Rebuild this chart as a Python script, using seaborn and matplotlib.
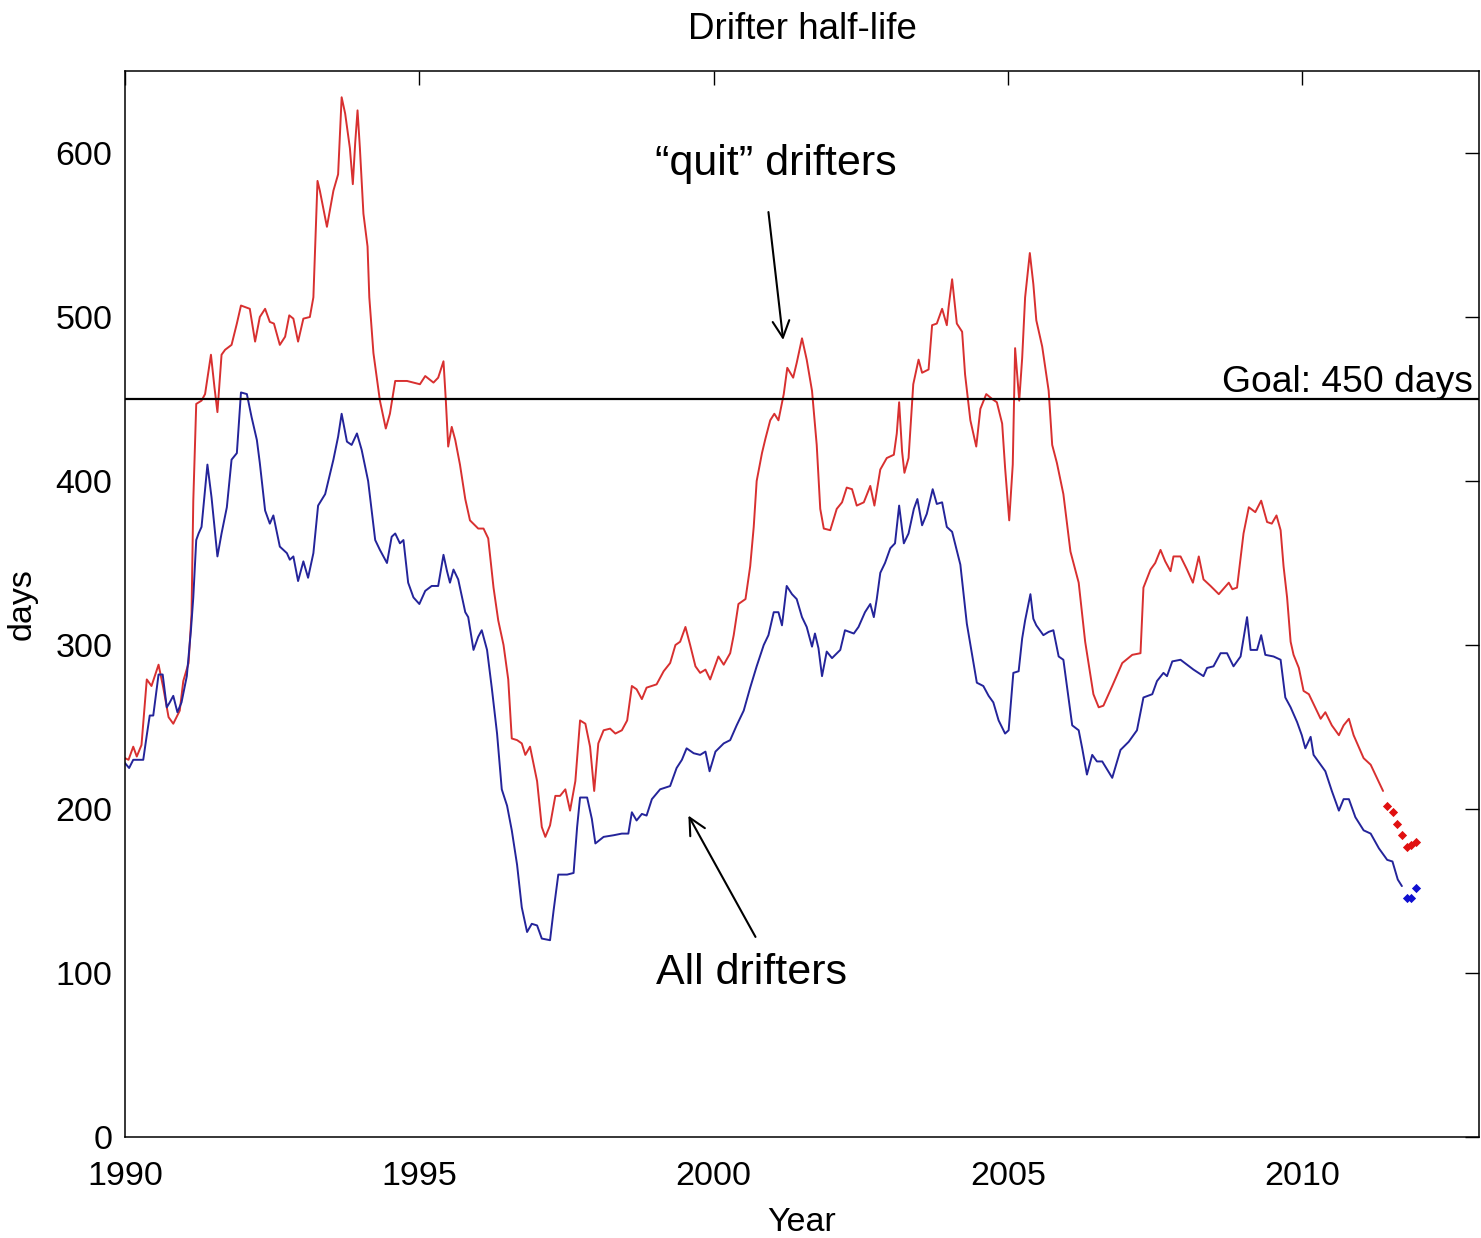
import numpy as np
import pandas as pd
import matplotlib
matplotlib.use("Agg")
import matplotlib.pyplot as plt
import seaborn as sns

# ---------------- data ----------------
quit_year = [1990.00, 1990.06, 1990.14, 1990.20, 1990.28, 1990.37, 1990.45, 1990.57, 1990.65, 1990.74,
             1990.82, 1990.93, 1990.99, 1991.08, 1991.13, 1991.16, 1991.21, 1991.30, 1991.36, 1991.46,
             1991.52, 1991.57, 1991.64, 1991.70, 1991.81, 1991.90, 1991.97, 1992.12, 1992.21, 1992.29,
             1992.38, 1992.46, 1992.53, 1992.63, 1992.72, 1992.79, 1992.86, 1992.94, 1993.03, 1993.14,
             1993.20, 1993.23, 1993.27, 1993.31, 1993.43, 1993.54, 1993.62, 1993.68, 1993.74, 1993.82,
             1993.87, 1993.91, 1993.95, 1993.99, 1994.05, 1994.12, 1994.15, 1994.22, 1994.33, 1994.43,
             1994.50, 1994.59, 1994.79, 1994.90, 1995.01, 1995.10, 1995.24, 1995.32, 1995.41, 1995.45,
             1995.49, 1995.55, 1995.61, 1995.69, 1995.78, 1995.86, 1996.00, 1996.09, 1996.17, 1996.26,
             1996.34, 1996.43, 1996.51, 1996.57, 1996.66, 1996.74, 1996.80, 1996.88, 1997.00, 1997.08,
             1997.14, 1997.22, 1997.31, 1997.39, 1997.48, 1997.56, 1997.65, 1997.73, 1997.82, 1997.90,
             1997.97, 1998.04, 1998.13, 1998.24, 1998.33, 1998.44, 1998.53, 1998.61, 1998.69, 1998.78,
             1998.86, 1999.03, 1999.15, 1999.26, 1999.35, 1999.43, 1999.52, 1999.60, 1999.69, 1999.77,
             1999.86, 1999.94, 2000.08, 2000.17, 2000.28, 2000.34, 2000.42, 2000.54, 2000.62, 2000.68,
             2000.73, 2000.82, 2000.88, 2000.96, 2001.03, 2001.10, 2001.19, 2001.25, 2001.35, 2001.41,
             2001.50, 2001.58, 2001.67, 2001.75, 2001.81, 2001.87, 2001.98, 2002.09, 2002.18, 2002.26,
             2002.35, 2002.43, 2002.55, 2002.66, 2002.73, 2002.83, 2002.94, 2003.06, 2003.11, 2003.15,
             2003.20, 2003.24, 2003.31, 2003.39, 2003.48, 2003.54, 2003.65, 2003.71, 2003.79, 2003.88,
             2003.96, 2003.99, 2004.05, 2004.13, 2004.22, 2004.27, 2004.36, 2004.46, 2004.53, 2004.63,
             2004.73, 2004.81, 2004.90, 2004.95, 2005.02, 2005.08, 2005.12, 2005.19, 2005.24, 2005.29,
             2005.37, 2005.43, 2005.48, 2005.58, 2005.69, 2005.75, 2005.83, 2005.94, 2006.06, 2006.20,
             2006.31, 2006.45, 2006.54, 2006.62, 2006.77, 2006.94, 2007.11, 2007.25, 2007.30, 2007.42,
             2007.50, 2007.59, 2007.67, 2007.76, 2007.81, 2007.93, 2008.04, 2008.14, 2008.24, 2008.32,
             2008.44, 2008.58, 2008.75, 2008.81, 2008.89, 2009.00, 2009.09, 2009.20, 2009.30, 2009.40,
             2009.48, 2009.56, 2009.63, 2009.68, 2009.74, 2009.80, 2009.85, 2009.94, 2010.02, 2010.11,
             2010.19, 2010.31, 2010.39, 2010.50, 2010.62, 2010.70, 2010.79, 2010.87, 2011.04, 2011.16,
             2011.37]
quit_days = [231, 230, 238, 232, 239, 279, 275, 288, 274, 256,
             252, 260, 278, 289, 319, 388, 447, 449, 453, 477,
             457, 442, 477, 480, 483, 496, 507, 505, 485, 500,
             505, 497, 496, 483, 488, 501, 499, 485, 499, 500,
             512, 543, 583, 577, 555, 577, 587, 634, 624, 603,
             581, 606, 626, 603, 563, 543, 512, 478, 449, 432,
             441, 461, 461, 460, 459, 464, 460, 463, 473, 449,
             421, 433, 425, 410, 389, 376, 371, 371, 365, 335,
             315, 300, 279, 243, 242, 240, 233, 238, 217, 189,
             183, 190, 208, 208, 212, 199, 217, 254, 252, 238,
             211, 240, 248, 249, 246, 248, 254, 275, 273, 267,
             274, 276, 284, 289, 300, 302, 311, 300, 287, 283,
             285, 279, 293, 288, 295, 306, 325, 328, 348, 372,
             400, 417, 426, 437, 441, 437, 453, 469, 463, 472,
             487, 474, 455, 422, 383, 371, 370, 383, 387, 396,
             395, 385, 387, 397, 385, 407, 414, 416, 429, 448,
             418, 405, 414, 459, 474, 466, 468, 495, 496, 505,
             495, 506, 523, 496, 491, 465, 437, 421, 444, 453,
             450, 448, 435, 408, 376, 410, 481, 449, 475, 512,
             539, 520, 498, 482, 455, 422, 411, 392, 357, 338,
             302, 270, 262, 263, 275, 289, 294, 295, 335, 346,
             350, 358, 351, 345, 354, 354, 346, 338, 354, 340,
             336, 331, 338, 334, 335, 368, 384, 381, 388, 375,
             374, 379, 370, 348, 329, 302, 294, 286, 272, 270,
             264, 255, 259, 251, 245, 251, 255, 245, 231, 227,
             211]

all_year = [1990.00, 1990.07, 1990.14, 1990.31, 1990.37, 1990.42, 1990.48, 1990.57, 1990.64, 1990.71,
            1990.76, 1990.82, 1990.89, 1990.96, 1991.05, 1991.12, 1991.16, 1991.21, 1991.25, 1991.30,
            1991.40, 1991.47, 1991.57, 1991.64, 1991.73, 1991.81, 1991.90, 1991.97, 1992.07, 1992.15,
            1992.24, 1992.29, 1992.38, 1992.46, 1992.52, 1992.63, 1992.75, 1992.80, 1992.86, 1992.94,
            1993.03, 1993.11, 1993.20, 1993.28, 1993.40, 1993.54, 1993.62, 1993.68, 1993.77, 1993.85,
            1993.94, 1994.02, 1994.13, 1994.25, 1994.33, 1994.45, 1994.53, 1994.59, 1994.67, 1994.73,
            1994.81, 1994.90, 1995.00, 1995.10, 1995.21, 1995.32, 1995.41, 1995.47, 1995.52, 1995.58,
            1995.66, 1995.78, 1995.83, 1995.92, 1996.00, 1996.06, 1996.15, 1996.23, 1996.32, 1996.40,
            1996.49, 1996.57, 1996.66, 1996.74, 1996.83, 1996.91, 1997.00, 1997.08, 1997.22, 1997.28,
            1997.36, 1997.51, 1997.62, 1997.68, 1997.73, 1997.85, 1997.93, 1997.99, 1998.13, 1998.30,
            1998.44, 1998.55, 1998.61, 1998.69, 1998.78, 1998.86, 1998.95, 1999.09, 1999.26, 1999.37,
            1999.46, 1999.54, 1999.66, 1999.77, 1999.86, 1999.93, 2000.03, 2000.17, 2000.28, 2000.39,
            2000.51, 2000.62, 2000.73, 2000.85, 2000.93, 2001.02, 2001.10, 2001.16, 2001.24, 2001.33,
            2001.41, 2001.50, 2001.58, 2001.67, 2001.72, 2001.78, 2001.84, 2001.92, 2002.01, 2002.15,
            2002.23, 2002.38, 2002.46, 2002.57, 2002.66, 2002.72, 2002.77, 2002.83, 2002.91, 2003.00,
            2003.08, 2003.15, 2003.23, 2003.31, 2003.40, 2003.46, 2003.54, 2003.62, 2003.72, 2003.79,
            2003.88, 2003.96, 2004.05, 2004.19, 2004.30, 2004.39, 2004.47, 2004.58, 2004.67, 2004.75,
            2004.84, 2004.95, 2005.01, 2005.09, 2005.18, 2005.24, 2005.29, 2005.38, 2005.43, 2005.48,
            2005.60, 2005.69, 2005.77, 2005.86, 2005.94, 2006.00, 2006.09, 2006.20, 2006.26, 2006.34,
            2006.43, 2006.51, 2006.60, 2006.77, 2006.91, 2007.05, 2007.19, 2007.30, 2007.45, 2007.53,
            2007.64, 2007.70, 2007.79, 2007.93, 2008.15, 2008.32, 2008.38, 2008.49, 2008.61, 2008.72,
            2008.83, 2008.95, 2009.06, 2009.12, 2009.23, 2009.30, 2009.37, 2009.51, 2009.63, 2009.71,
            2009.80, 2009.91, 2009.99, 2010.05, 2010.14, 2010.19, 2010.31, 2010.39, 2010.50, 2010.62,
            2010.70, 2010.79, 2010.90, 2011.04, 2011.16, 2011.30, 2011.44, 2011.53, 2011.62, 2011.69]
all_days = [228, 225, 230, 230, 245, 257, 257, 282, 282, 262,
            265, 269, 259, 265, 281, 309, 329, 364, 368, 372,
            410, 390, 354, 368, 384, 413, 417, 454, 453, 439,
            425, 411, 382, 374, 379, 360, 356, 352, 354, 339,
            351, 341, 356, 385, 392, 413, 427, 441, 424, 422,
            429, 419, 400, 364, 358, 350, 366, 368, 362, 364,
            338, 329, 325, 333, 336, 336, 355, 345, 338, 346,
            340, 320, 317, 297, 305, 309, 297, 274, 246, 212,
            202, 187, 166, 140, 125, 130, 129, 121, 120, 138,
            160, 160, 161, 189, 207, 207, 194, 179, 183, 184,
            185, 185, 198, 193, 197, 196, 206, 212, 214, 225,
            230, 237, 234, 233, 235, 223, 235, 240, 242, 251,
            260, 274, 287, 300, 306, 320, 320, 312, 336, 331,
            328, 317, 311, 299, 307, 298, 281, 296, 292, 297,
            309, 307, 311, 320, 325, 317, 328, 344, 350, 359,
            362, 385, 362, 368, 383, 389, 373, 380, 395, 386,
            387, 372, 369, 349, 313, 294, 277, 275, 269, 265,
            254, 246, 248, 283, 284, 304, 315, 331, 316, 312,
            306, 308, 309, 293, 291, 275, 251, 248, 237, 221,
            233, 229, 229, 219, 236, 241, 248, 268, 270, 278,
            283, 281, 290, 291, 285, 281, 286, 287, 295, 295,
            287, 293, 317, 297, 297, 306, 294, 293, 291, 268,
            262, 253, 245, 237, 244, 233, 227, 223, 211, 199,
            206, 206, 195, 187, 185, 176, 169, 168, 157, 153]

# provisional (marker-only) recent values
quit_recent_year = [2011.44, 2011.54, 2011.61, 2011.69, 2011.78, 2011.85, 2011.93]
quit_recent_days = [202, 198, 191, 184, 177, 178, 180]
all_recent_year = [2011.77, 2011.85, 2011.93]
all_recent_days = [146, 146, 152]

goal_days = 450
x_ticks = [1990, 1995, 2000, 2005, 2010]
y_ticks = [0, 100, 200, 300, 400, 500, 600]

# ---------------- figure ----------------
sns.set_theme(style="white")
plt.rcParams['font.family'] = ['Liberation Sans', 'DejaVu Sans']
plt.rcParams['text.color'] = 'black'
plt.rcParams['axes.labelcolor'] = 'black'
plt.rcParams['xtick.color'] = 'black'
plt.rcParams['ytick.color'] = 'black'

fig = plt.figure(figsize=(14.81, 12.38), dpi=100)
ax = fig.add_axes([125 / 1481, 1 - 1137 / 1238, (1479 - 125) / 1481, (1137 - 71) / 1238])

df_quit = pd.DataFrame({"Year": quit_year, "days": quit_days})
df_all = pd.DataFrame({"Year": all_year, "days": all_days})
df_qr = pd.DataFrame({"Year": quit_recent_year, "days": quit_recent_days})
df_ar = pd.DataFrame({"Year": all_recent_year, "days": all_recent_days})

red = "#d83030"
blue = "#24249a"

sns.lineplot(data=df_quit, x="Year", y="days", ax=ax, color=red, linewidth=1.4,
             estimator=None, sort=False)
sns.lineplot(data=df_all, x="Year", y="days", ax=ax, color=blue, linewidth=1.4,
             estimator=None, sort=False)
sns.scatterplot(data=df_qr, x="Year", y="days", ax=ax, color="#e01010", marker="D",
                s=22, linewidth=0)
sns.scatterplot(data=df_ar, x="Year", y="days", ax=ax, color="#1010d0", marker="D",
                s=22, linewidth=0)

ax.axhline(goal_days, color="black", linewidth=1.6)

ax.set_xlim(1990, 2013.0)
ax.set_ylim(0, 650)
ax.set_xticks(x_ticks)
ax.set_yticks(y_ticks)
ax.tick_params(direction="in", length=10, width=1.0, top=True, right=True,
               labelsize=24.5, colors="black")
ax.tick_params(axis="x", pad=17)
ax.tick_params(axis="y", pad=9)
for sp in ax.spines.values():
    sp.set_visible(True)
    sp.set_color("black")
    sp.set_linewidth(1.1)
ax.grid(False)

ax.set_xlabel("Year", fontsize=24.5, labelpad=11)
ax.set_ylabel("days", fontsize=24.5, labelpad=13)
ax.set_title("Drifter half-life", fontsize=26.5, pad=23, color="black")

# annotations
ax.text(2012.89, 454, "Goal: 450 days", fontsize=26.8, ha="right", va="baseline")
ax.text(2001.06, 593, "\u201cquit\u201d drifters", fontsize=31, ha="center", va="center")
ax.text(2000.65, 100, "All drifters", fontsize=31, ha="center", va="center")
arrow_style = dict(arrowstyle="->", color="black", lw=1.5, shrinkA=0, shrinkB=0,
                   mutation_scale=30)
ax.annotate("", xy=(2001.18, 486), xytext=(2000.93, 564), arrowprops=arrow_style)
ax.annotate("", xy=(1999.57, 196), xytext=(2000.71, 122), arrowprops=arrow_style)

fig.savefig("out.png", dpi=100, facecolor="white")
